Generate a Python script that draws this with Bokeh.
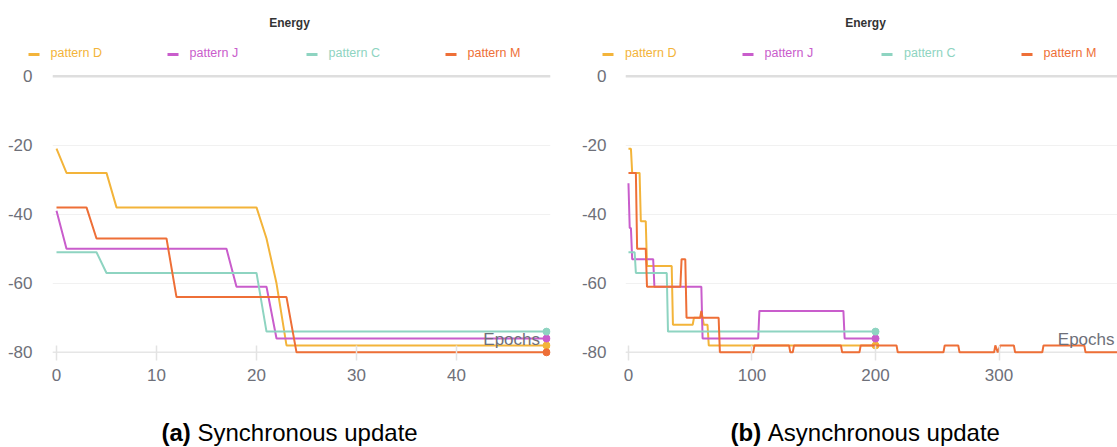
from bokeh.plotting import figure
from bokeh.models import Range1d, Label, FixedTicker, Span
from bokeh.layouts import row, column
from bokeh.core.properties import value
from bokeh.embed import file_html
from bokeh.resources import INLINE

FONT = "Liberation Sans"
GREY = "#6e7079"

series_names = ["pattern D", "pattern J", "pattern C", "pattern M"]
series_colors = ["#f3b43a", "#c95dcc", "#8ed4c1", "#ee6f37"]

# (a) synchronous update, one value per epoch 0..49
sync_epochs = list(range(50))
sync_D = [-21, -28, -28, -28, -28, -28, -38, -38, -38, -38,
          -38, -38, -38, -38, -38, -38, -38, -38, -38, -38,
          -38, -47, -60, -78, -78, -78, -78, -78, -78, -78,
          -78, -78, -78, -78, -78, -78, -78, -78, -78, -78,
          -78, -78, -78, -78, -78, -78, -78, -78, -78, -78]
sync_J = [-39, -50, -50, -50, -50, -50, -50, -50, -50, -50,
          -50, -50, -50, -50, -50, -50, -50, -50, -61, -61,
          -61, -61, -76, -76, -76, -76, -76, -76, -76, -76,
          -76, -76, -76, -76, -76, -76, -76, -76, -76, -76,
          -76, -76, -76, -76, -76, -76, -76, -76, -76, -76]
sync_C = [-51, -51, -51, -51, -51, -57, -57, -57, -57, -57,
          -57, -57, -57, -57, -57, -57, -57, -57, -57, -57,
          -57, -74, -74, -74, -74, -74, -74, -74, -74, -74,
          -74, -74, -74, -74, -74, -74, -74, -74, -74, -74,
          -74, -74, -74, -74, -74, -74, -74, -74, -74, -74]
sync_M = [-38, -38, -38, -38, -47, -47, -47, -47, -47, -47,
          -47, -47, -64, -64, -64, -64, -64, -64, -64, -64,
          -64, -64, -64, -64, -80, -80, -80, -80, -80, -80,
          -80, -80, -80, -80, -80, -80, -80, -80, -80, -80,
          -80, -80, -80, -80, -80, -80, -80, -80, -80, -80]

# (b) asynchronous update, vertices (epoch, energy)
async_D_x = [0, 2, 3, 9, 10, 14, 15, 35, 36, 52, 53, 60, 61, 64, 65, 200]
async_D_y = [-21, -21, -28, -28, -42, -42, -55, -55, -72, -72, -70, -70, -72, -72, -78, -78]
async_J_x = [0, 1, 2, 3, 20, 21, 59, 60, 105, 106, 174, 175, 200]
async_J_y = [-31, -44, -44, -53, -53, -61, -61, -76, -76, -68, -68, -76, -76]
async_C_x = [0, 5, 6, 31, 32, 200]
async_C_y = [-51, -51, -57, -57, -74, -74]
async_M_x = [0, 6, 7, 14, 15, 42, 43, 46, 47, 58, 59, 60, 73, 74, 101, 102, 130, 131, 133, 134, 172,
             173, 187, 188, 217, 218, 255, 256, 267, 268, 296, 297, 299, 301, 312, 313, 335, 336, 369, 370, 399]
async_M_y = [-28, -28, -50, -50, -61, -61, -53, -53, -70, -70, -68, -70, -70, -80, -80, -78, -78, -80, -80, -78, -78,
             -80, -80, -78, -78, -80, -80, -78, -78, -80, -80, -78, -80, -78, -78, -80, -80, -78, -78, -80, -80]

y_ticks = [0, -20, -40, -60, -80]
sync_x_ticks = [0, 10, 20, 30, 40]
async_x_ticks = [0, 100, 200, 300]

W = 1117
HEADER_H = 66
CAPTION_H = 47
PLOT_H = 447 - HEADER_H - CAPTION_H
TOP = 7
BOTTOM = 43
Y_MIN, Y_MAX = -81.5, 0.8


def make_panel(width, x0, x1, left, right, xticks, xs, ys, ystandoff, name_gap):
    p = figure(width=width, height=PLOT_H, output_backend="svg", toolbar_location=None,
               x_range=Range1d(x0, x1), y_range=Range1d(Y_MIN, Y_MAX),
               min_border_left=left, min_border_right=right,
               min_border_top=TOP, min_border_bottom=BOTTOM)
    p.outline_line_color = None
    p.xgrid.visible = False
    p.yaxis.ticker = FixedTicker(ticks=y_ticks)
    p.xaxis.ticker = FixedTicker(ticks=xticks)
    p.yaxis.major_label_overrides = {t: str(t) for t in y_ticks}
    p.ygrid.grid_line_color = "#f1f1f1"
    p.ygrid.grid_line_width = 1

    for ax in (p.xaxis, p.yaxis):
        ax.axis_line_color = None
        ax.minor_tick_line_color = None
        ax.major_label_text_font = FONT
        ax.major_label_text_font_size = "17px"
        ax.major_label_text_color = GREY
    p.yaxis.major_tick_line_color = None
    p.yaxis.major_label_standoff = ystandoff
    p.xaxis.major_tick_line_color = "#e3e3e3"
    p.xaxis.major_tick_line_width = 1.5
    p.xaxis.major_tick_in = 12
    p.xaxis.major_tick_out = 3
    p.xaxis.major_label_standoff = 8

    p.add_layout(Span(location=-80, dimension="width", line_color="#e6e6e6",
                      line_width=1.5, level="underlay"))
    p.add_layout(Span(location=0, dimension="width", line_color="#dedede",
                      line_width=2.5, level="underlay"))

    for x, y, c in zip(xs, ys, series_colors):
        p.line(x, y, line_color=c, line_width=2)
        p.scatter([x[-1]], [y[-1]], size=7, fill_color=c, line_color=c)

    # axis name at the right end of the frame, just above the axis line
    frame_w = width - left - right
    ppx = frame_w / (x1 - x0)
    ppy = (PLOT_H - TOP - BOTTOM) / (Y_MAX - Y_MIN)
    p.add_layout(Label(x=x1 - name_gap / ppx, y=-80 + 12.5 / ppy, text="Epochs",
                       text_align="right", text_baseline="alphabetic", text_font=FONT,
                       text_font_size="17px", text_color=GREY))
    return p


def blank(height, ytop):
    p = figure(width=W, height=height, output_backend="svg", toolbar_location=None,
               x_range=Range1d(0, W), y_range=Range1d(ytop + height, ytop),
               x_axis_location=None, y_axis_location=None, min_border=0)
    p.outline_line_color = None
    p.grid.visible = False
    return p


# header: titles and legends (screen-like coordinates, y downward)
header = blank(HEADER_H, 0)
title_cx = [289, 865]
header.text(x=title_cx, y=[22, 22], text=["Energy", "Energy"], text_align="center",
            text_baseline="middle", text_font=value(FONT), text_font_size=value("12px"),
            text_font_style="bold", text_color="#333333")
icon_left = [28, 167, 306, 445, 602, 742, 881, 1021]
text_left = [50, 189, 328, 467, 624.5, 764, 903.5, 1043]
leg_names = series_names + series_names
leg_colors = series_colors + series_colors
header.segment(x0=icon_left, y0=[54] * 8, x1=[v + 11 for v in icon_left], y1=[54] * 8,
               line_color=leg_colors, line_width=3)
header.text(x=text_left, y=[52] * 8, text=leg_names, text_align="left", text_baseline="middle",
            text_font=value(FONT), text_font_size=value("12.5px"), text_color=leg_colors)

# captions
caption = blank(CAPTION_H, 447 - CAPTION_H)
caption.text(x=[161, 730], y=[432, 432], text=["(a)", "(b)"], text_align="left",
             text_baseline="middle", text_font=value(FONT), text_font_size=value("24px"),
             text_font_style="bold", text_color="#000000")
caption.text(x=[197, 767.3], y=[432, 432], text=["Synchronous update", "Asynchronous update"],
             text_align="left", text_baseline="middle", text_font=value(FONT),
             text_font_size=value("24px"), text_color="#000000")

left_p = make_panel(558, -0.4, 49.4, 52, 8, sync_x_ticks,
                    [sync_epochs] * 4, [sync_D, sync_J, sync_C, sync_M], 14, 10.5)
right_p = make_panel(559, -2.4, 395.9, 67, 0, async_x_ticks,
                     [async_D_x, async_J_x, async_C_x, async_M_x],
                     [async_D_y, async_J_y, async_C_y, async_M_y], 13, 3)

layout = column(header, row(left_p, right_p, spacing=0), caption, spacing=0)
open("out.html", "w").write(file_html(layout, INLINE))
